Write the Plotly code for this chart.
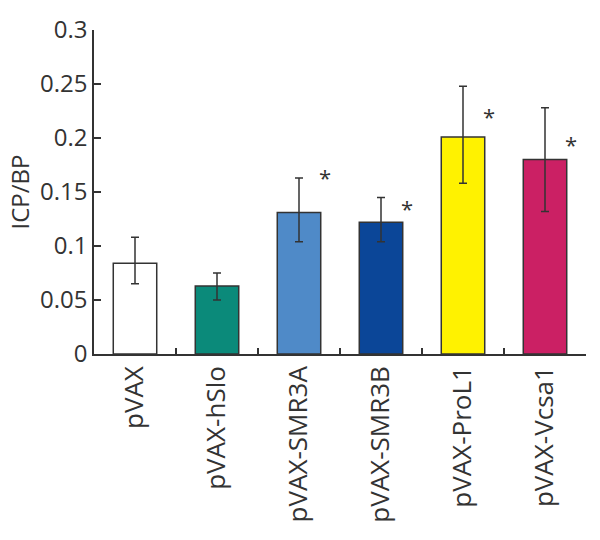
import plotly.graph_objects as go

# values
groups = ["pVAX", "pVAX-hSlo", "pVAX-SMR3A", "pVAX-SMR3B", "pVAX-ProL1", "pVAX-Vcsa1"]
means = [0.084, 0.063, 0.131, 0.122, 0.201, 0.180]
err_hi = [0.108, 0.075, 0.163, 0.145, 0.248, 0.228]
err_lo = [0.065, 0.050, 0.104, 0.104, 0.158, 0.132]
colors = ["#ffffff", "#0b8a7a", "#4f8ac8", "#0b4698", "#fff200", "#cb2064"]
significant = [False, False, True, True, True, True]
star_y = [None, None, 0.164, 0.135, 0.220, 0.194]

INK = "#333333"
FONT = "Open Sans, DejaVu Sans, sans-serif"

fig = go.Figure()
fig.add_bar(
    x=groups,
    y=means,
    width=0.53,
    marker=dict(color=colors, line=dict(color=INK, width=1.5)),
    error_y=dict(
        type="data",
        symmetric=False,
        array=[h - m for h, m in zip(err_hi, means)],
        arrayminus=[m - l for m, l in zip(means, err_lo)],
        color=INK,
        thickness=1.5,
        width=4,
    ),
    showlegend=False,
)

for g, sig, sy in zip(groups, significant, star_y):
    if sig:
        fig.add_annotation(
            x=g, y=sy, text="*", showarrow=False, xshift=26,
            font=dict(size=22, color=INK, family=FONT),
        )

fig.update_layout(
    width=600,
    height=540,
    margin=dict(l=94, r=14, t=25, b=186),
    plot_bgcolor="white",
    paper_bgcolor="white",
    font=dict(family=FONT, size=24, color=INK),
    xaxis=dict(
        type="category",
        range=[-0.5, 5.5],
        tickangle=-90,
        tickson="boundaries",
        ticks="inside",
        ticklen=6,
        tickwidth=1.5,
        tickcolor=INK,
        showline=True,
        linecolor=INK,
        linewidth=1.5,
        showgrid=False,
        tickfont=dict(size=26, color=INK),
    ),
    yaxis=dict(
        title=dict(text="ICP/BP", font=dict(size=24, color=INK), standoff=4),
        range=[0, 0.3],
        tickvals=[0, 0.05, 0.1, 0.15, 0.2, 0.25, 0.3],
        ticktext=["0", "0.05", "0.1", "0.15", "0.2", "0.25", "0.3"],
        ticks="inside",
        ticklen=7,
        tickwidth=1.5,
        tickcolor=INK,
        showline=True,
        linecolor=INK,
        linewidth=1.5,
        showgrid=False,
        zeroline=False,
        tickfont=dict(size=24, color=INK),
    ),
)

fig.write_html(
    "out.html",
    config={"displayModeBar": False},
    post_script="document.body.style.margin='0';",
)
